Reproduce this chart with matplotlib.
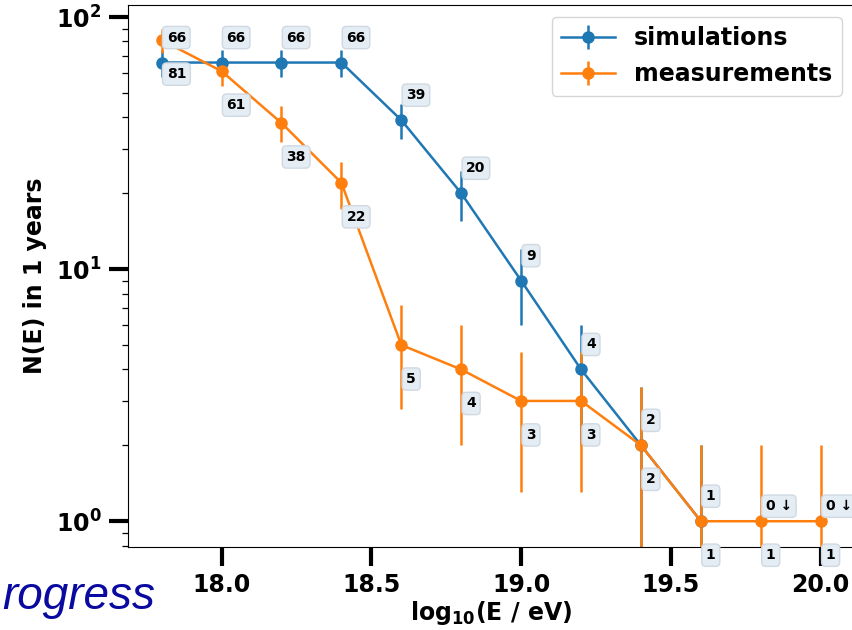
import numpy as np
import matplotlib
matplotlib.use("Agg")
import matplotlib.pyplot as plt

plt.rcParams['font.weight'] = 'bold'
plt.rcParams['axes.labelweight'] = 'bold'

#%% data
log_e = [17.8, 18.0, 18.2, 18.4, 18.6, 18.8, 19.0, 19.2, 19.4, 19.6, 19.8, 20.0]
n_sim = [66, 66, 66, 66, 39, 20, 9, 4, 2, 1, 0, 0]
n_sim_err = [8.1, 8.1, 8.1, 8.1, 6.2, 4.5, 3.0, 2.0, 1.4, 1.0, 0.0, 0.0]
n_meas = [81, 61, 38, 22, 5, 4, 3, 3, 2, 1, 1, 1]
n_meas_err = [9.0, 7.8, 6.2, 4.7, 2.2, 2.0, 1.7, 1.7, 1.4, 1.0, 1.0, 1.0]

#%%
fig = plt.figure(figsize=(8.52, 6.3), dpi=100)
ax = fig.add_axes([0.150, 0.1317, 0.852, 0.8603])

sim = np.array(n_sim, dtype=float)
sim_plot = np.where(sim > 0, sim, np.nan)
ax.errorbar(log_e, sim_plot, yerr=n_sim_err, color='#1f77b4', marker='o',
            markersize=8, linewidth=1.8, elinewidth=1.8, label='simulations')
ax.errorbar(log_e, n_meas, yerr=n_meas_err, color='#ff7f0e', marker='o',
            markersize=8, linewidth=1.8, elinewidth=1.8, label='measurements')

box = dict(boxstyle='round,pad=0.3', fc='#e4ecf4', ec='#d0d9e2', lw=1)
for x, v in zip(log_e, n_sim):
    if v > 0:
        ax.annotate(str(v), (x, v), xytext=(5, 25), textcoords='offset pixels',
                    ha='left', va='center', fontsize=10, fontweight='bold', bbox=box)
    else:
        ax.annotate('0 \u2193', (x, 1), xytext=(5, 15), textcoords='offset pixels',
                    ha='left', va='center', fontsize=10, fontweight='bold', bbox=box)
for x, v in zip(log_e, n_meas):
    ax.annotate(str(v), (x, v), xytext=(5, -34), textcoords='offset pixels',
                ha='left', va='center', fontsize=10, fontweight='bold', bbox=box)

ax.set_yscale('log')
ax.set_xlim(17.687, 20.11)
ax.set_ylim(0.79, 111.6)
ax.set_xticks([18.0, 18.5, 19.0, 19.5, 20.0])

ax.set_xlabel(r'log$_\mathbf{10}$(E / eV)', fontsize=17, labelpad=1)
ax.set_ylabel('N(E) in 1 years', fontsize=17, labelpad=6)
ax.tick_params(which='major', length=14, width=3, labelsize=17, pad=5)
ax.tick_params(which='minor', length=4, width=0.9)
for lab in ax.get_xticklabels() + ax.get_yticklabels():
    lab.set_fontweight('bold')

ax.legend(loc='upper right', prop={'weight': 'bold', 'size': 17}, handlelength=2.3)

# leftover slide text in the bottom left corner
fig.text(155 / 852, 1 - 609 / 630, 'rogress', ha='right', va='baseline',
         fontsize=33, style='italic', color='#0a0aa0', family='Liberation Sans',
         fontweight='normal')

fig.savefig('out.png', dpi=100)
